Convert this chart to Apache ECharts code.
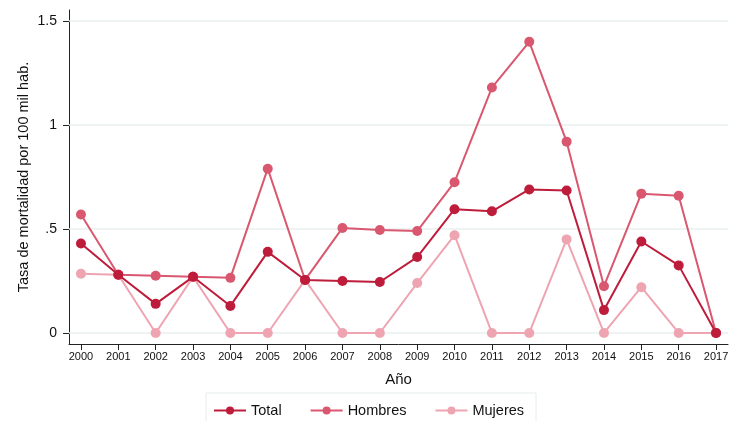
<!DOCTYPE html>
<html><head><meta charset="utf-8">
<script src="https://cdn.jsdelivr.net/npm/echarts@6/dist/echarts.min.js"></script>
<style>html,body{margin:0;padding:0;background:#fff}#c{width:740px;height:421px}</style>
</head><body><div id="c"></div>
<script>
const years = [2000,2001,2002,2003,2004,2005,2006,2007,2008,2009,2010,2011,2012,2013,2014,2015,2016,2017];
const total = [0.43,0.28,0.14,0.27,0.13,0.39,0.255,0.25,0.245,0.365,0.595,0.585,0.69,0.685,0.11,0.44,0.325,0];
const hombres = [0.57,0.28,0.275,0.27,0.265,0.79,0.255,0.505,0.495,0.49,0.725,1.18,1.40,0.92,0.225,0.67,0.66,0];
const mujeres = [0.285,0.28,0,0.27,0,0,0.255,0,0,0.24,0.47,0,0,0.45,0,0.22,0,0];
const yTicks = [0,0.5,1,1.5];
const yTickLabels = ['0','.5','1','1.5'];
const seriesNames = ['Total','Hombres','Mujeres'];
const colors = ['#be1c3b','#d9586f','#eea5b1'];
const font = 'Liberation Sans, Arial, sans-serif';

const chart = echarts.init(document.getElementById('c'), null, {renderer:'canvas'});
const dataSets = [total, hombres, mujeres];
chart.setOption({
  animation:false,
  textStyle:{fontFamily:font},
  grid:{left:69,right:12,top:10,bottom:77,containLabel:false},
  legend:{
    top:393, left:206,
    itemWidth:32, itemHeight:10, itemGap:28,
    padding:[10,12,12,7],
    borderColor:'#e6ecec', borderWidth:1,
    textStyle:{fontSize:14.5,color:'#111',fontFamily:font,padding:[0,0,0,0]},
    data:seriesNames
  },
  xAxis:{
    type:'value', min:1999.68, max:2017.32,
    name:'Año', nameLocation:'middle', nameGap:28, nameMoveOverlap:false,
    nameTextStyle:{fontSize:15,color:'#111',fontFamily:font},
    axisLine:{show:true,onZero:false,lineStyle:{color:'#222',width:1}},
    axisTick:{show:true,customValues:years,length:6,lineStyle:{color:'#222'}},
    axisLabel:{customValues:years,formatter:v=>String(Math.round(v)),fontSize:11,color:'#111',margin:7,fontFamily:font},
    splitLine:{show:false}
  },
  yAxis:{
    type:'value', min:-0.053, max:1.553,
    name:'Tasa de mortalidad por 100 mil hab.', nameLocation:'middle', nameGap:38, nameMoveOverlap:false,
    nameTextStyle:{fontSize:14.5,color:'#111',fontFamily:font},
    axisLine:{show:true,onZero:false,lineStyle:{color:'#222',width:1}},
    axisTick:{show:true,customValues:yTicks,length:6,lineStyle:{color:'#222'}},
    axisLabel:{customValues:yTicks,formatter:v=>yTickLabels[yTicks.findIndex(t=>Math.abs(t-v)<1e-6)] ?? '',fontSize:14,color:'#111',margin:12,fontFamily:font},
    splitLine:{show:false}
  },
  series: seriesNames.map((n,i)=>({
    name:n, type:'line',
    data: years.map((y,j)=>[y,dataSets[i][j]]),
    symbol:'circle', symbolSize:10,
    lineStyle:{color:colors[i],width:2},
    itemStyle:{color:colors[i]},
    z: 10-i,
    markLine: i===0 ? {
      silent:true, symbol:'none', label:{show:false},
      lineStyle:{color:'#e8efef',type:'solid',width:1.5},
      z:1,
      data: yTicks.map(v=>({yAxis:v}))
    } : undefined
  }))
});
</script></body></html>
